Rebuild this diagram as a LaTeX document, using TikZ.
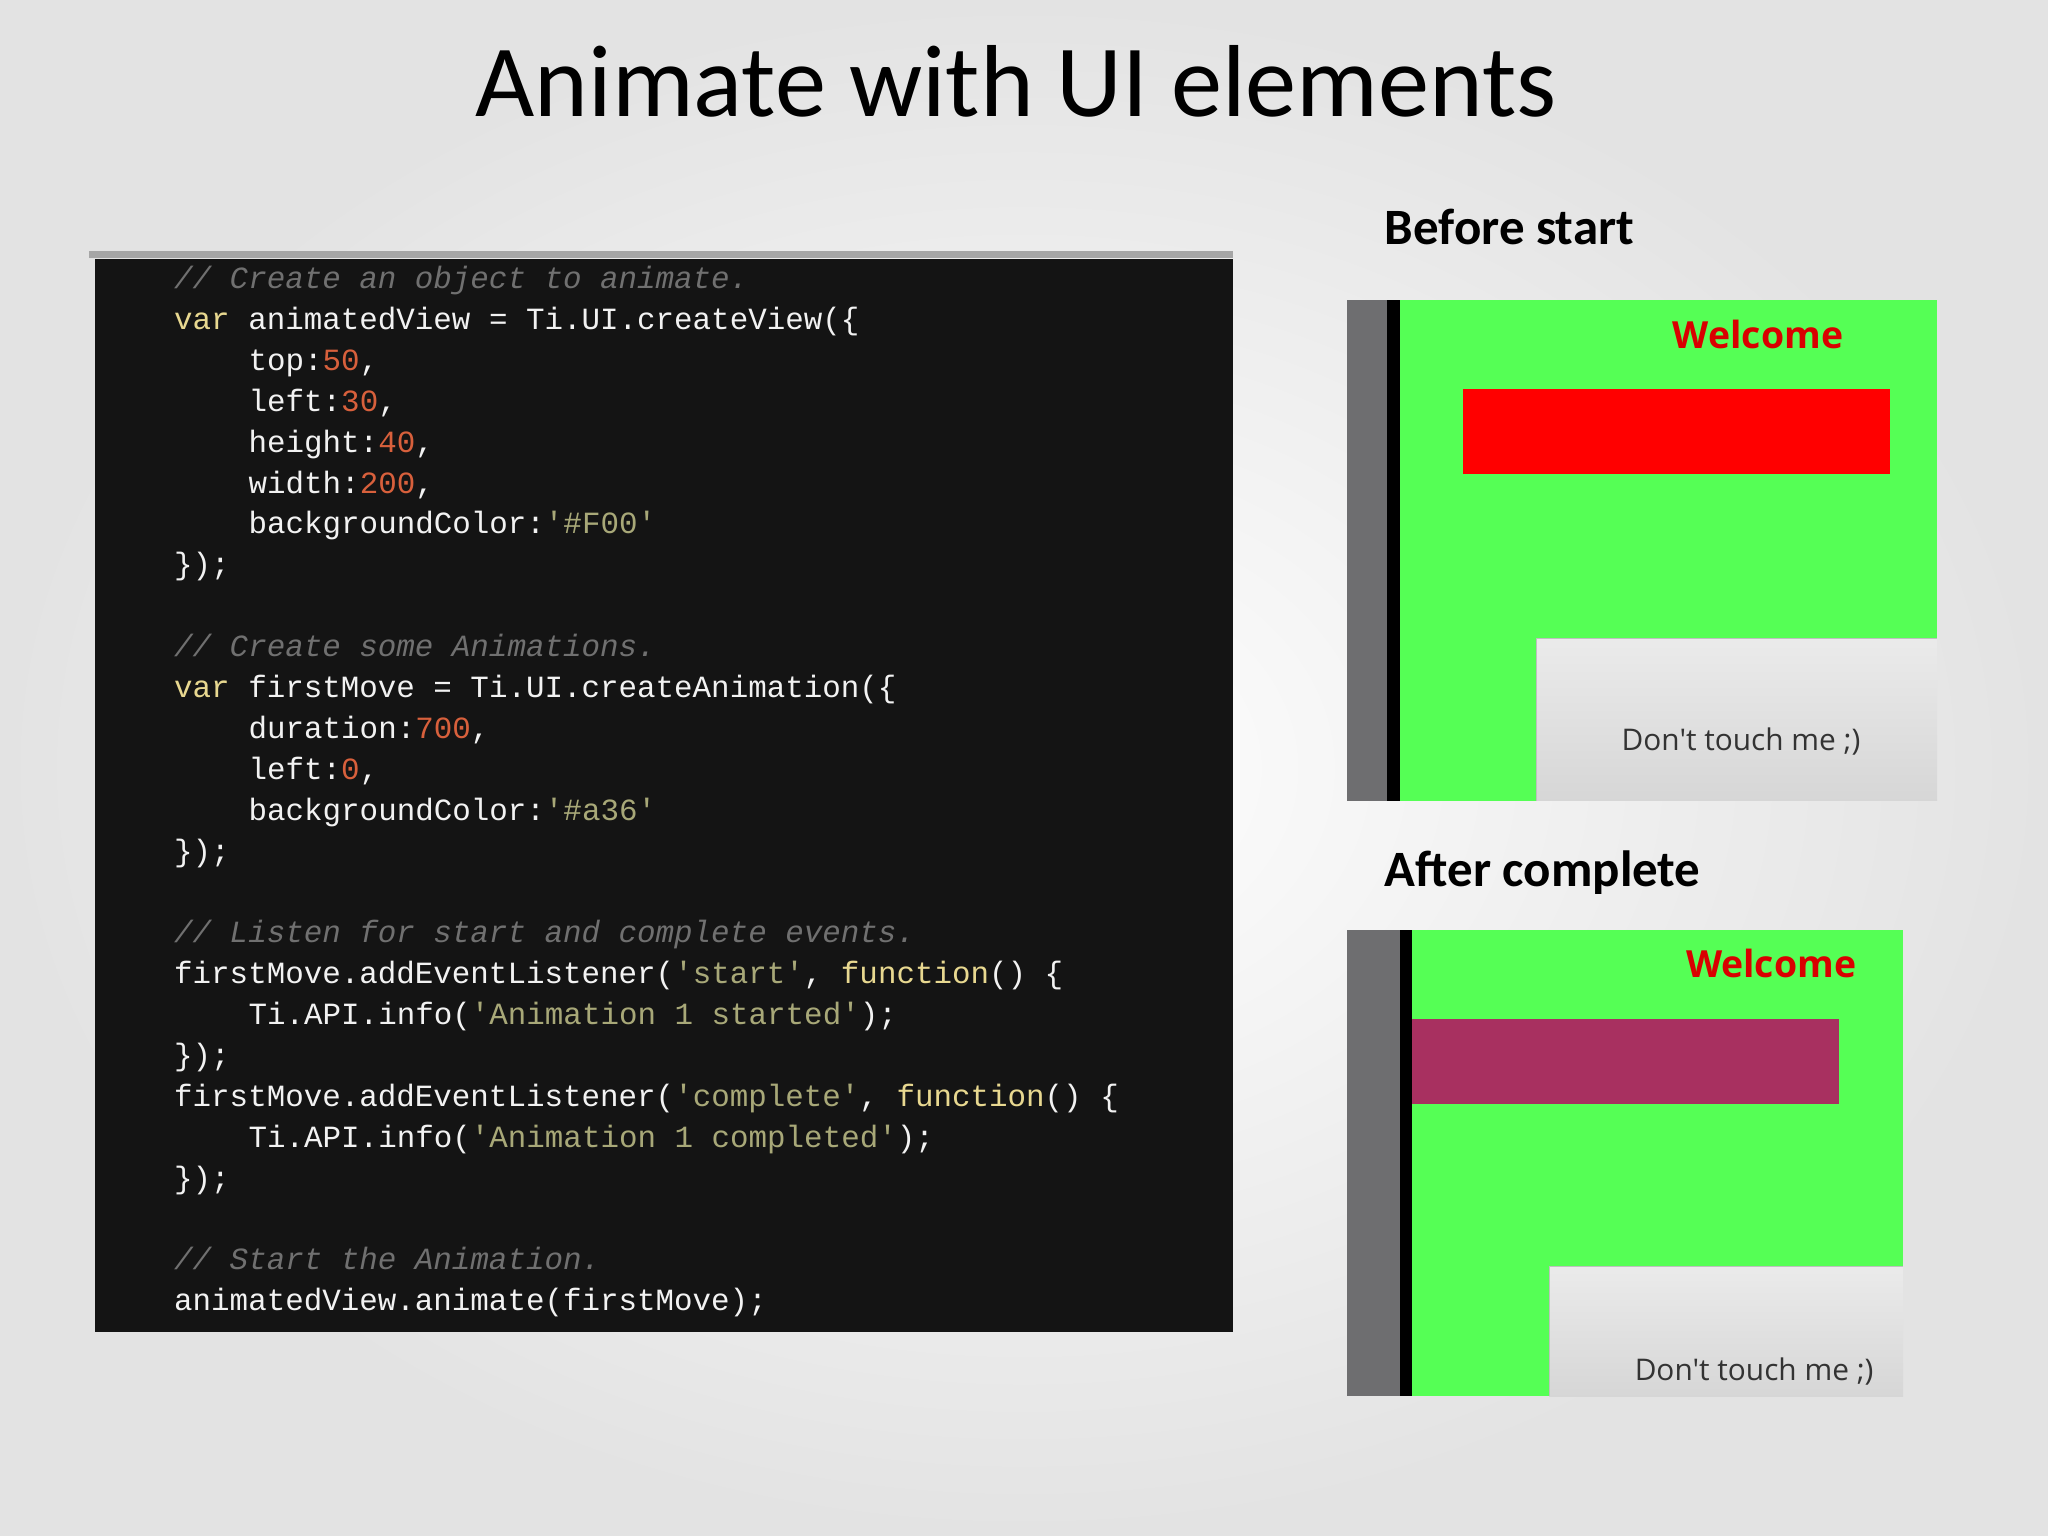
\documentclass[tikz,border=0pt]{standalone}
\usepackage{fontspec}
\setmainfont{Carlito}
\newfontfamily\codefont{Liberation Mono}
\newfontfamily\uifont{Open Sans}
\definecolor{cmt}{HTML}{707070}
\definecolor{kw}{HTML}{E8D890}
\definecolor{num}{HTML}{D8603C}
\definecolor{str}{HTML}{A8A878}
\definecolor{txt}{HTML}{F2F2F2}
\definecolor{scr}{HTML}{55FF55}
\definecolor{side}{HTML}{6E6E70}
\definecolor{mag}{HTML}{A83060}
\newcommand{\C}[1]{\textcolor{cmt}{\itshape #1}}
\newcommand{\K}[1]{\textcolor{kw}{#1}}
\newcommand{\N}[1]{\textcolor{num}{#1}}
\newcommand{\Sq}[1]{\textcolor{str}{#1}}
\begin{document}
\begin{tikzpicture}[x=0.02cm,y=-0.02cm,
  cl/.style={anchor=base west,inner sep=0,font=\codefont\fontsize{13.45}{15}\selectfont,text=txt},
  hd/.style={anchor=base west,inner sep=0,font=\bfseries\fontsize{22.2}{26}\selectfont},
  wel/.style={inner sep=0,font=\uifont\bfseries\fontsize{16.3}{20}\selectfont,text=red!85!black},
  btn/.style={inner sep=0,font=\uifont\fontsize{13}{15}\selectfont,text=black!80}]
\useasboundingbox (0,0) rectangle (1568,1176);
\shade[inner color=white,outer color=black!11] (0,0) rectangle (1568,1176);
\node[inner sep=0,font=\fontsize{44.6}{48}\selectfont] (title) at (778,62) {Animate with UI elements};
% code panel
\draw[black!35,line width=3pt] (68,195) -- (944,195);
\fill[black!92] (73,198) rectangle (944,1020);
\def\ly#1{\fpeval{221+31.3*#1}}
\node[cl] (l0) at (133,\ly{0}) {\C{// Create an object to animate.}};
\node[cl] (l1) at (133,\ly{1}) {\K{var} animatedView = Ti.UI.createView(\{};
\node[cl] (l2) at (190,\ly{2}) {top:\N{50},};
\node[cl] (l3) at (190,\ly{3}) {left:\N{30},};
\node[cl] (l4) at (190,\ly{4}) {height:\N{40},};
\node[cl] (l5) at (190,\ly{5}) {width:\N{200},};
\node[cl] (l6) at (190,\ly{6}) {backgroundColor:\Sq{'\#F00'}};
\node[cl] (l7) at (133,\ly{7}) {\});};
\node[cl] (l9) at (133,\ly{9}) {\C{// Create some Animations.}};
\node[cl] (l10) at (133,\ly{10}) {\K{var} firstMove = Ti.UI.createAnimation(\{};
\node[cl] (l11) at (190,\ly{11}) {duration:\N{700},};
\node[cl] (l12) at (190,\ly{12}) {left:\N{0},};
\node[cl] (l13) at (190,\ly{13}) {backgroundColor:\Sq{'\#a36'}};
\node[cl] (l14) at (133,\ly{14}) {\});};
\node[cl] (l16) at (133,\ly{16}) {\C{// Listen for start and complete events.}};
\node[cl] (l17) at (133,\ly{17}) {firstMove.addEventListener(\Sq{'start'}, \K{function}() \{};
\node[cl] (l18) at (190,\ly{18}) {Ti.API.info(\Sq{'Animation 1 started'});};
\node[cl] (l19) at (133,\ly{19}) {\});};
\node[cl] (l20) at (133,\ly{20}) {firstMove.addEventListener(\Sq{'complete'}, \K{function}() \{};
\node[cl] (l21) at (190,\ly{21}) {Ti.API.info(\Sq{'Animation 1 completed'});};
\node[cl] (l22) at (133,\ly{22}) {\});};
\node[cl] (l24) at (133,\ly{24}) {\C{// Start the Animation.}};
\node[cl] (l25) at (133,\ly{25}) {animatedView.animate(firstMove);};
% before
\node[hd] (h1) at (1060,187) {Before start};
\fill[scr] (1031,230) rectangle (1483,613);
\fill[side] (1031,230) rectangle (1062,613);
\fill[black] (1062,230) rectangle (1072,613);
\node[wel] (w1) at (1346,256) {Welcome};
\fill[red] (1120,298) rectangle (1447,363);
\shade[top color=black!8,bottom color=black!16] (1176,489) rectangle (1483,613);
\draw[black!25] (1176,613) -- (1176,489) -- (1483,489);
\node[btn] (b1) at (1333,568) {Don't touch me ;)};
% after
\node[hd] (h2) at (1060,679) {After complete};
\fill[scr] (1031,712) rectangle (1457,1069);
\fill[side] (1031,712) rectangle (1072,1069);
\fill[black] (1072,712) rectangle (1081,1069);
\node[wel] (w2) at (1356,738) {Welcome};
\fill[mag] (1081,780) rectangle (1408,845);
\shade[top color=black!8,bottom color=black!16] (1186,970) rectangle (1457,1069);
\draw[black!25] (1186,1069) -- (1186,970) -- (1457,970);
\node[btn] (b2) at (1343,1050) {Don't touch me ;)};
\end{tikzpicture}
\end{document}
